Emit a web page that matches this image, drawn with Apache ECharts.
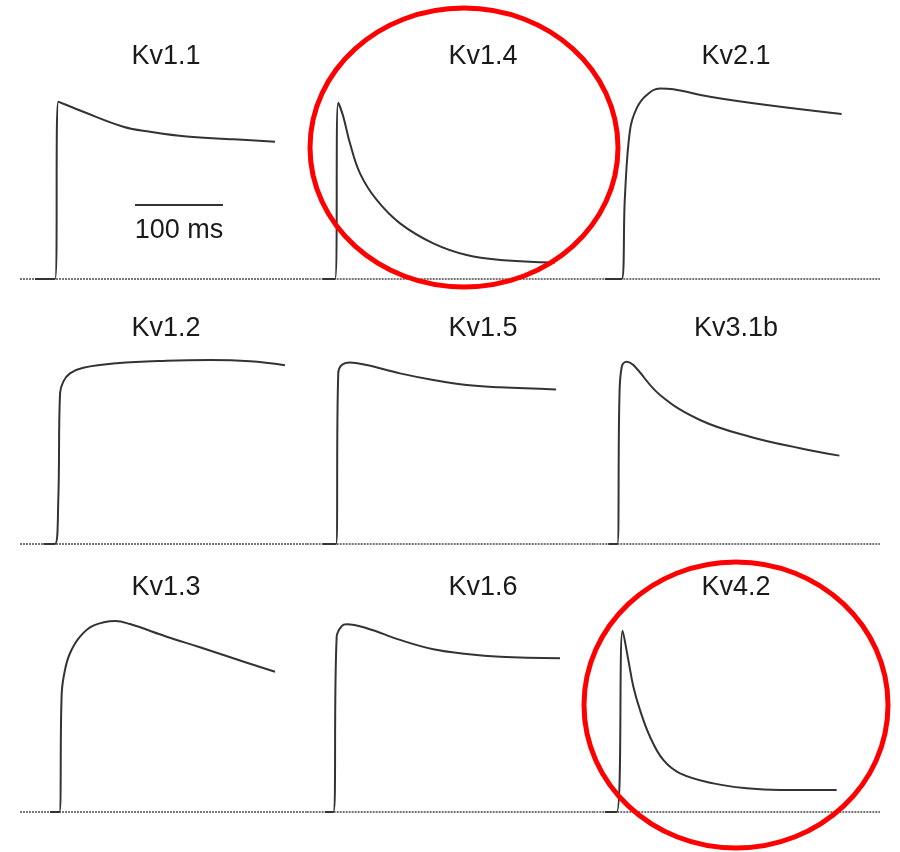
<!DOCTYPE html>
<html>
<head>
<meta charset="utf-8">
<script src="https://cdn.jsdelivr.net/npm/echarts@6/dist/echarts.min.js"></script>
<style>
html, body { margin: 0; padding: 0; background: #fff; }
#chart { width: 900px; height: 852px; }
</style>
</head>
<body>
<div id="chart"></div>
<script>
// channel names, in panel order (row by row)
var channels = ['Kv1.1', 'Kv1.4', 'Kv2.1', 'Kv1.2', 'Kv1.5', 'Kv3.1b', 'Kv1.3', 'Kv1.6', 'Kv4.2'];

// traces: [time (ms from panel left), normalized current]
var kv11 = [[17, 0], [39.8, 0], [43.5, 0.985], [71.9, 0.929], [117.4, 0.846], [147.7, 0.818], [189.4, 0.791], [242.4, 0.776], [289.8, 0.763]];
var kv14 = [[18.2, 0], [32.2, 0], [35.9, 0.979], [41.6, 0.902], [49.2, 0.754], [60.6, 0.587], [79.6, 0.439], [106.1, 0.309], [143.9, 0.198], [181.9, 0.133], [219.7, 0.106], [282.2, 0.091]];
var kv21 = [[13.3, 0], [32.2, 0], [35.9, 0.457], [41.7, 0.828], [49.2, 0.948], [60.6, 1.022], [75.8, 1.059], [90.9, 1.054], [132.6, 1.013], [197, 0.967], [282.2, 0.917]];
var kv12 = [[26.5, 0], [39.8, 0], [43.5, 0.244], [45.5, 0.837], [49.2, 0.902], [56.8, 0.948], [71.9, 0.979], [109.9, 1.004], [166.7, 1.018], [215.9, 1.022], [261.4, 1.015], [301.1, 0.993]];
var kv15 = [[18.2, 0], [33.3, 0], [35.9, 0.948], [39.8, 0.994], [49.2, 1.009], [68.2, 0.994], [106.1, 0.948], [143.9, 0.911], [181.9, 0.883], [219.7, 0.871], [283.3, 0.859]];
var kv31b = [[17.1, 0], [27.3, 0], [29.6, 0.8], [32.3, 0.985], [37.9, 1.013], [45.5, 0.994], [75.8, 0.828], [121.2, 0.689], [178, 0.596], [234.9, 0.532], [279.6, 0.491]];
var kv13 = [[34.1, 0], [44.7, 0], [47.4, 0.659], [51.1, 0.789], [56.8, 0.882], [68.2, 0.974], [83.3, 1.035], [108, 1.061], [125, 1.044], [166.7, 0.974], [204.5, 0.915], [242.4, 0.854], [289.8, 0.779]];
var kv16 = [[20.8, 0], [30.3, 0], [34.1, 0.974], [39.8, 1.033], [45.5, 1.043], [68.2, 1.021], [106.1, 0.956], [143.9, 0.904], [181.9, 0.878], [219.7, 0.863], [287.9, 0.854]];
var kv42 = [[13.3, 0], [26.5, 0], [33.3, 1.007], [39.8, 0.844], [45.5, 0.696], [53, 0.567], [64.4, 0.418], [79.5, 0.289], [98.5, 0.215], [136.4, 0.159], [174.2, 0.132], [212.1, 0.122], [276.5, 0.122]];
var traces = [kv11, kv14, kv21, kv12, kv15, kv31b, kv13, kv16, kv42];

// scale bar (in Kv1.1 panel): 100 ms
var scaleBar = [[130.7, 0.411], [230.7, 0.411]];

// layout
var rowBase = [279, 544, 812];
var colLeft = [20, 306.67, 593.33];
var panelW = 286.67;
var pxPerMs = 0.88;
var pxPerUnit = 180;
var yMax = 1.2;
var panelMs = panelW / pxPerMs;
var titleX = [161, 478, 731];
var titleTop = [38, 310, 569];
var font = 'Liberation Sans, Arial, Helvetica, sans-serif';

var grids = [], xAxes = [], yAxes = [], series = [], titles = [];
channels.forEach(function (name, i) {
    var r = Math.floor(i / 3), c = i % 3;
    grids.push({
        left: colLeft[c],
        top: rowBase[r] - yMax * pxPerUnit,
        width: panelW,
        height: yMax * pxPerUnit
    });
    xAxes.push({ type: 'value', gridIndex: i, min: 0, max: panelMs, show: false });
    yAxes.push({ type: 'value', gridIndex: i, min: 0, max: yMax, show: false });
    // dotted zero-current line
    series.push({
        type: 'line',
        xAxisIndex: i, yAxisIndex: i,
        data: [[0, 0], [panelMs, 0]],
        symbol: 'none',
        silent: true,
        clip: false,
        lineStyle: { color: '#777', width: 2.2, type: [2, 1] }
    });
    series.push({
        name: name,
        type: 'line',
        xAxisIndex: i, yAxisIndex: i,
        data: traces[i],
        symbol: 'none',
        smooth: 0.4,
        clip: false,
        z: 3,
        lineStyle: { color: '#333', width: 2 }
    });
    titles.push({
        text: name,
        left: titleX[c],
        top: titleTop[r],
        textAlign: 'center',
        textStyle: { fontFamily: font, fontSize: 27, fontWeight: 'normal', color: '#1a1a1a' }
    });
});

series.push({
    type: 'line',
    xAxisIndex: 0, yAxisIndex: 0,
    data: scaleBar,
    symbol: 'none',
    clip: false,
    lineStyle: { color: '#333', width: 2 }
});
series.push({
    type: 'scatter',
    xAxisIndex: 0, yAxisIndex: 0,
    data: [[(scaleBar[0][0] + scaleBar[1][0]) / 2, scaleBar[0][1]]],
    symbolSize: 0,
    itemStyle: { opacity: 1 },
    label: {
        show: true,
        position: 'bottom',
        distance: 12,
        formatter: '100 ms',
        fontFamily: font,
        fontSize: 27,
        color: '#1a1a1a'
    }
});

var myChart = echarts.init(document.getElementById('chart'));
myChart.setOption({
    backgroundColor: '#fff',
    animation: false,
    title: titles,
    grid: grids,
    xAxis: xAxes,
    yAxis: yAxes,
    series: series,
    graphic: [
        {
            type: 'ellipse',
            shape: { cx: 464, cy: 147.5, rx: 154, ry: 139.5 },
            style: { fill: 'none', stroke: '#ff0000', lineWidth: 5 },
            z: 100
        },
        {
            type: 'ellipse',
            shape: { cx: 736, cy: 705, rx: 152, ry: 143 },
            style: { fill: 'none', stroke: '#ff0000', lineWidth: 5 },
            z: 100
        }
    ]
});
</script>
</body>
</html>
